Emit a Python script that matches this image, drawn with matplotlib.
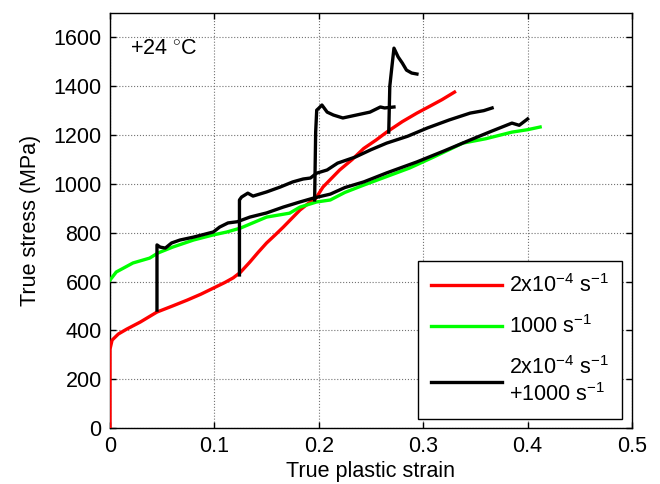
import matplotlib
matplotlib.use('Agg')
import matplotlib.pyplot as plt
import numpy as np

plt.rcParams['font.family'] = ['Liberation Sans', 'DejaVu Sans']
plt.rcParams['mathtext.fontset'] = 'custom'
plt.rcParams['mathtext.rm'] = 'Liberation Sans'
plt.rcParams['mathtext.it'] = 'Liberation Sans:italic'
fontsize1 = 15.5
linewidth1 = 2.4

# quasi-static 2x10^-4 1/s
red_x = [0, 0, 0.002, 0.008, 0.016, 0.029, 0.045, 0.06, 0.074, 0.087, 0.099, 0.110,
         0.118, 0.125, 0.134, 0.142, 0.150, 0.158, 0.166, 0.174, 0.182, 0.190, 0.197,
         0.204, 0.212, 0.220, 0.232, 0.243, 0.255, 0.265, 0.280, 0.294, 0.305, 0.318, 0.330]
red_y = [0, 323, 360, 385, 405, 434, 475, 500, 524, 548, 573, 596,
         615, 638, 680, 720, 758, 790, 823, 858, 893, 920, 940,
         987, 1022, 1057, 1100, 1145, 1180, 1212, 1255, 1290, 1315, 1345, 1376]

# dynamic 1000 1/s
green_x = [0, 0.006, 0.022, 0.038, 0.046, 0.060, 0.080, 0.099, 0.112, 0.125, 0.150,
           0.172, 0.182, 0.198, 0.211, 0.225, 0.243, 0.265, 0.287, 0.310, 0.338,
           0.360, 0.385, 0.400, 0.412]
green_y = [606, 639, 676, 696, 717, 741, 770, 791, 803, 819, 864,
           880, 905, 926, 934, 965, 995, 1030, 1065, 1110, 1167,
           1185, 1212, 1222, 1233]

# jump tests: quasi-static preload then 1000 1/s
jump1_x = [0.045, 0.045, 0.048, 0.053, 0.059, 0.067, 0.080, 0.099, 0.105, 0.113, 0.122,
           0.134, 0.150, 0.166, 0.182, 0.195, 0.211, 0.225, 0.243, 0.265, 0.294,
           0.320, 0.345, 0.365, 0.385, 0.392, 0.400]
jump1_y = [483, 750, 741, 737, 758, 770, 782, 803, 823, 840, 845,
           864, 881, 905, 926, 942, 958, 985, 1008, 1045, 1090,
           1135, 1180, 1215, 1249, 1240, 1266]

jump2_x = [0.124, 0.124, 0.126, 0.132, 0.137, 0.150, 0.163, 0.175, 0.185, 0.192, 0.198,
           0.208, 0.218, 0.235, 0.250, 0.265, 0.285, 0.304, 0.325, 0.345, 0.358, 0.366]
jump2_y = [627, 934, 946, 962, 950, 967, 987, 1008, 1020, 1024, 1044,
           1057, 1085, 1110, 1140, 1167, 1195, 1229, 1262, 1290, 1300, 1311]

jump3_x = [0.196, 0.197, 0.198, 0.200, 0.203, 0.208, 0.214, 0.223, 0.236, 0.249,
           0.259, 0.263, 0.272]
jump3_y = [934, 1212, 1302, 1310, 1323, 1294, 1282, 1270, 1282, 1294,
           1315, 1311, 1315]

jump4_x = [0.267, 0.268, 0.270, 0.272, 0.276, 0.280, 0.284, 0.289, 0.294]
jump4_y = [1212, 1400, 1479, 1556, 1520, 1495, 1466, 1454, 1450]

fig = plt.figure(figsize=(6.6, 4.84), dpi=100)
ax = fig.add_axes([110/660, 56/484, 522/660, 415/484])

ax.plot(red_x, red_y, color=(1, 0, 0), linewidth=linewidth1, zorder=3,
        label='2x10$^{-4}$ s$^{-1}$')
ax.plot(green_x, green_y, color=(0, 1, 0), linewidth=linewidth1, zorder=3,
        label='1000 s$^{-1}$')
jumps = [(jump1_x, jump1_y), (jump2_x, jump2_y), (jump3_x, jump3_y), (jump4_x, jump4_y)]
for i, (jx, jy) in enumerate(jumps):
    ax.plot(jx, jy, color='k', linewidth=linewidth1, zorder=3,
            label='2x10$^{-4}$ s$^{-1}$\n+1000 s$^{-1}$' if i == 0 else None)

ax.set_xlim(0, 0.5)
ax.set_ylim(0, 1700)
ax.set_xticks(np.arange(0, 0.51, 0.1))
ax.set_xticklabels(['0', '0.1', '0.2', '0.3', '0.4', '0.5'])
ax.set_yticks(np.arange(0, 1601, 200))
ax.tick_params(direction='in', top=True, right=True, length=4, width=1,
               labelsize=fontsize1, pad=6)
ax.grid(True, linestyle=':', color='0.45', linewidth=0.8)
for s in ax.spines.values():
    s.set_linewidth(1)
ax.set_xlabel('True plastic strain', fontsize=fontsize1, labelpad=3)
ax.set_ylabel('True stress (MPa)', fontsize=fontsize1, labelpad=9)
ax.text(0.019, 1550, r'+24 $^{\circ}$C', fontsize=fontsize1, va='center')

leg = ax.legend(loc='lower right', bbox_to_anchor=(0.981, 0.022), fontsize=fontsize1,
                fancybox=False, edgecolor='k', framealpha=1, handlelength=3.3,
                handletextpad=0.35, borderpad=0.6, labelspacing=0.85, borderaxespad=0)
leg.get_frame().set_linewidth(1)

fig.savefig('out.png', dpi=100)
